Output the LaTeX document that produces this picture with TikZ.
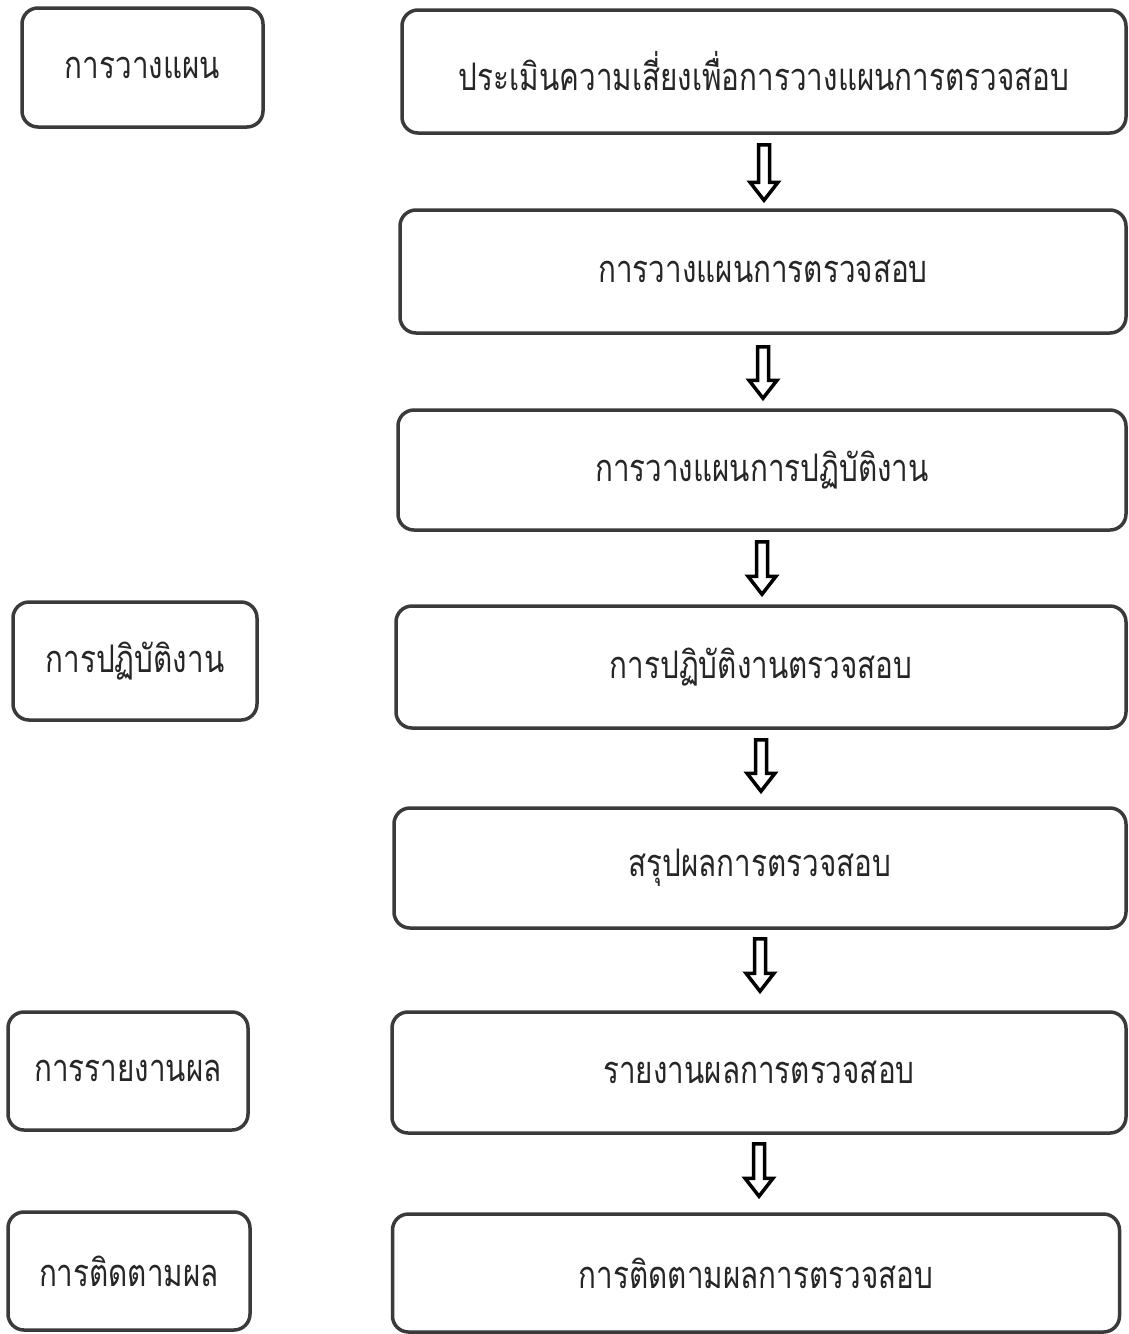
\documentclass[tikz,border=0pt]{standalone}
\usepackage{fontspec}
\newfontfamily\thaifont[Script=Thai,FakeStretch=0.78]{Loma}
\usetikzlibrary{calc}
\definecolor{edge}{HTML}{3A3A3A}
\tikzset{
  box/.style={draw=edge, line width=3.5pt, rounded corners=16pt, fill=white,
    font=\thaifont\fontsize{38}{44}\selectfont, text=black!85, inner sep=0pt},
  hollow/.style={draw=black, line width=3.5pt, line join=miter, fill=white,
    to path={let \p1=(\tikztostart), \p2=(\tikztotarget) in
      (\x1-5.5,\y1) -- (\x1+5.5,\y1) -- (\x1+5.5,\y2+18) -- (\x1+14,\y2+18)
      -- (\x1,\y2) -- (\x1-14,\y2+18) -- (\x1-5.5,\y2+18) -- cycle}}
}
\begin{document}
\begin{tikzpicture}[x=1pt,y=-1pt]
\useasboundingbox (0,0) rectangle (1129,1334);
% left boxes
\node[box, minimum width=241pt, minimum height=119pt] (l1) at (142.5,67.5) {การวางแผน};
\node[box, minimum width=244pt, minimum height=118pt] (l2) at (135,661) {การปฏิบัติงาน};
\node[box, minimum width=240pt, minimum height=118pt] (l3) at (128,1071) {การรายงานผล};
\node[box, minimum width=242pt, minimum height=118pt] (l4) at (129,1271) {การติดตามผล};
% right boxes
\node[box, minimum width=724pt, minimum height=123pt] (r1) at (764,71.5) {ประเมินความเสี่ยงเพื่อการวางแผนการตรวจสอบ};
\node[box, minimum width=726pt, minimum height=123pt] (r2) at (763,271.5) {การวางแผนการตรวจสอบ};
\node[box, minimum width=728pt, minimum height=120pt] (r3) at (762,470) {การวางแผนการปฏิบัติงาน};
\node[box, minimum width=730pt, minimum height=122pt] (r4) at (761,667) {การปฏิบัติงานตรวจสอบ};
\node[box, minimum width=732pt, minimum height=120pt] (r5) at (760,868) {สรุปผลการตรวจสอบ};
\node[box, minimum width=734pt, minimum height=121pt] (r6) at (759,1072.5) {รายงานผลการตรวจสอบ};
\node[box, minimum width=727pt, minimum height=118pt] (r7) at (756,1273) {การติดตามผลการตรวจสอบ};
% arrows
\draw[hollow] ([yshift=-10pt]r1.south) to ([yshift=8pt]r2.north);
\draw[hollow] ([yshift=-12pt]r2.south) to ([yshift=10pt]r3.north);
\draw[hollow] ([yshift=-10pt]r3.south) to ([yshift=10pt]r4.north);
\draw[hollow] ([yshift=-10pt]r4.south) to ([yshift=15pt]r5.north);
\draw[hollow] ([yshift=-9pt]r5.south) to ([yshift=19pt]r6.north);
\draw[hollow] ([yshift=-9pt]r6.south) to ([yshift=16pt]r7.north);
\end{tikzpicture}
\end{document}
